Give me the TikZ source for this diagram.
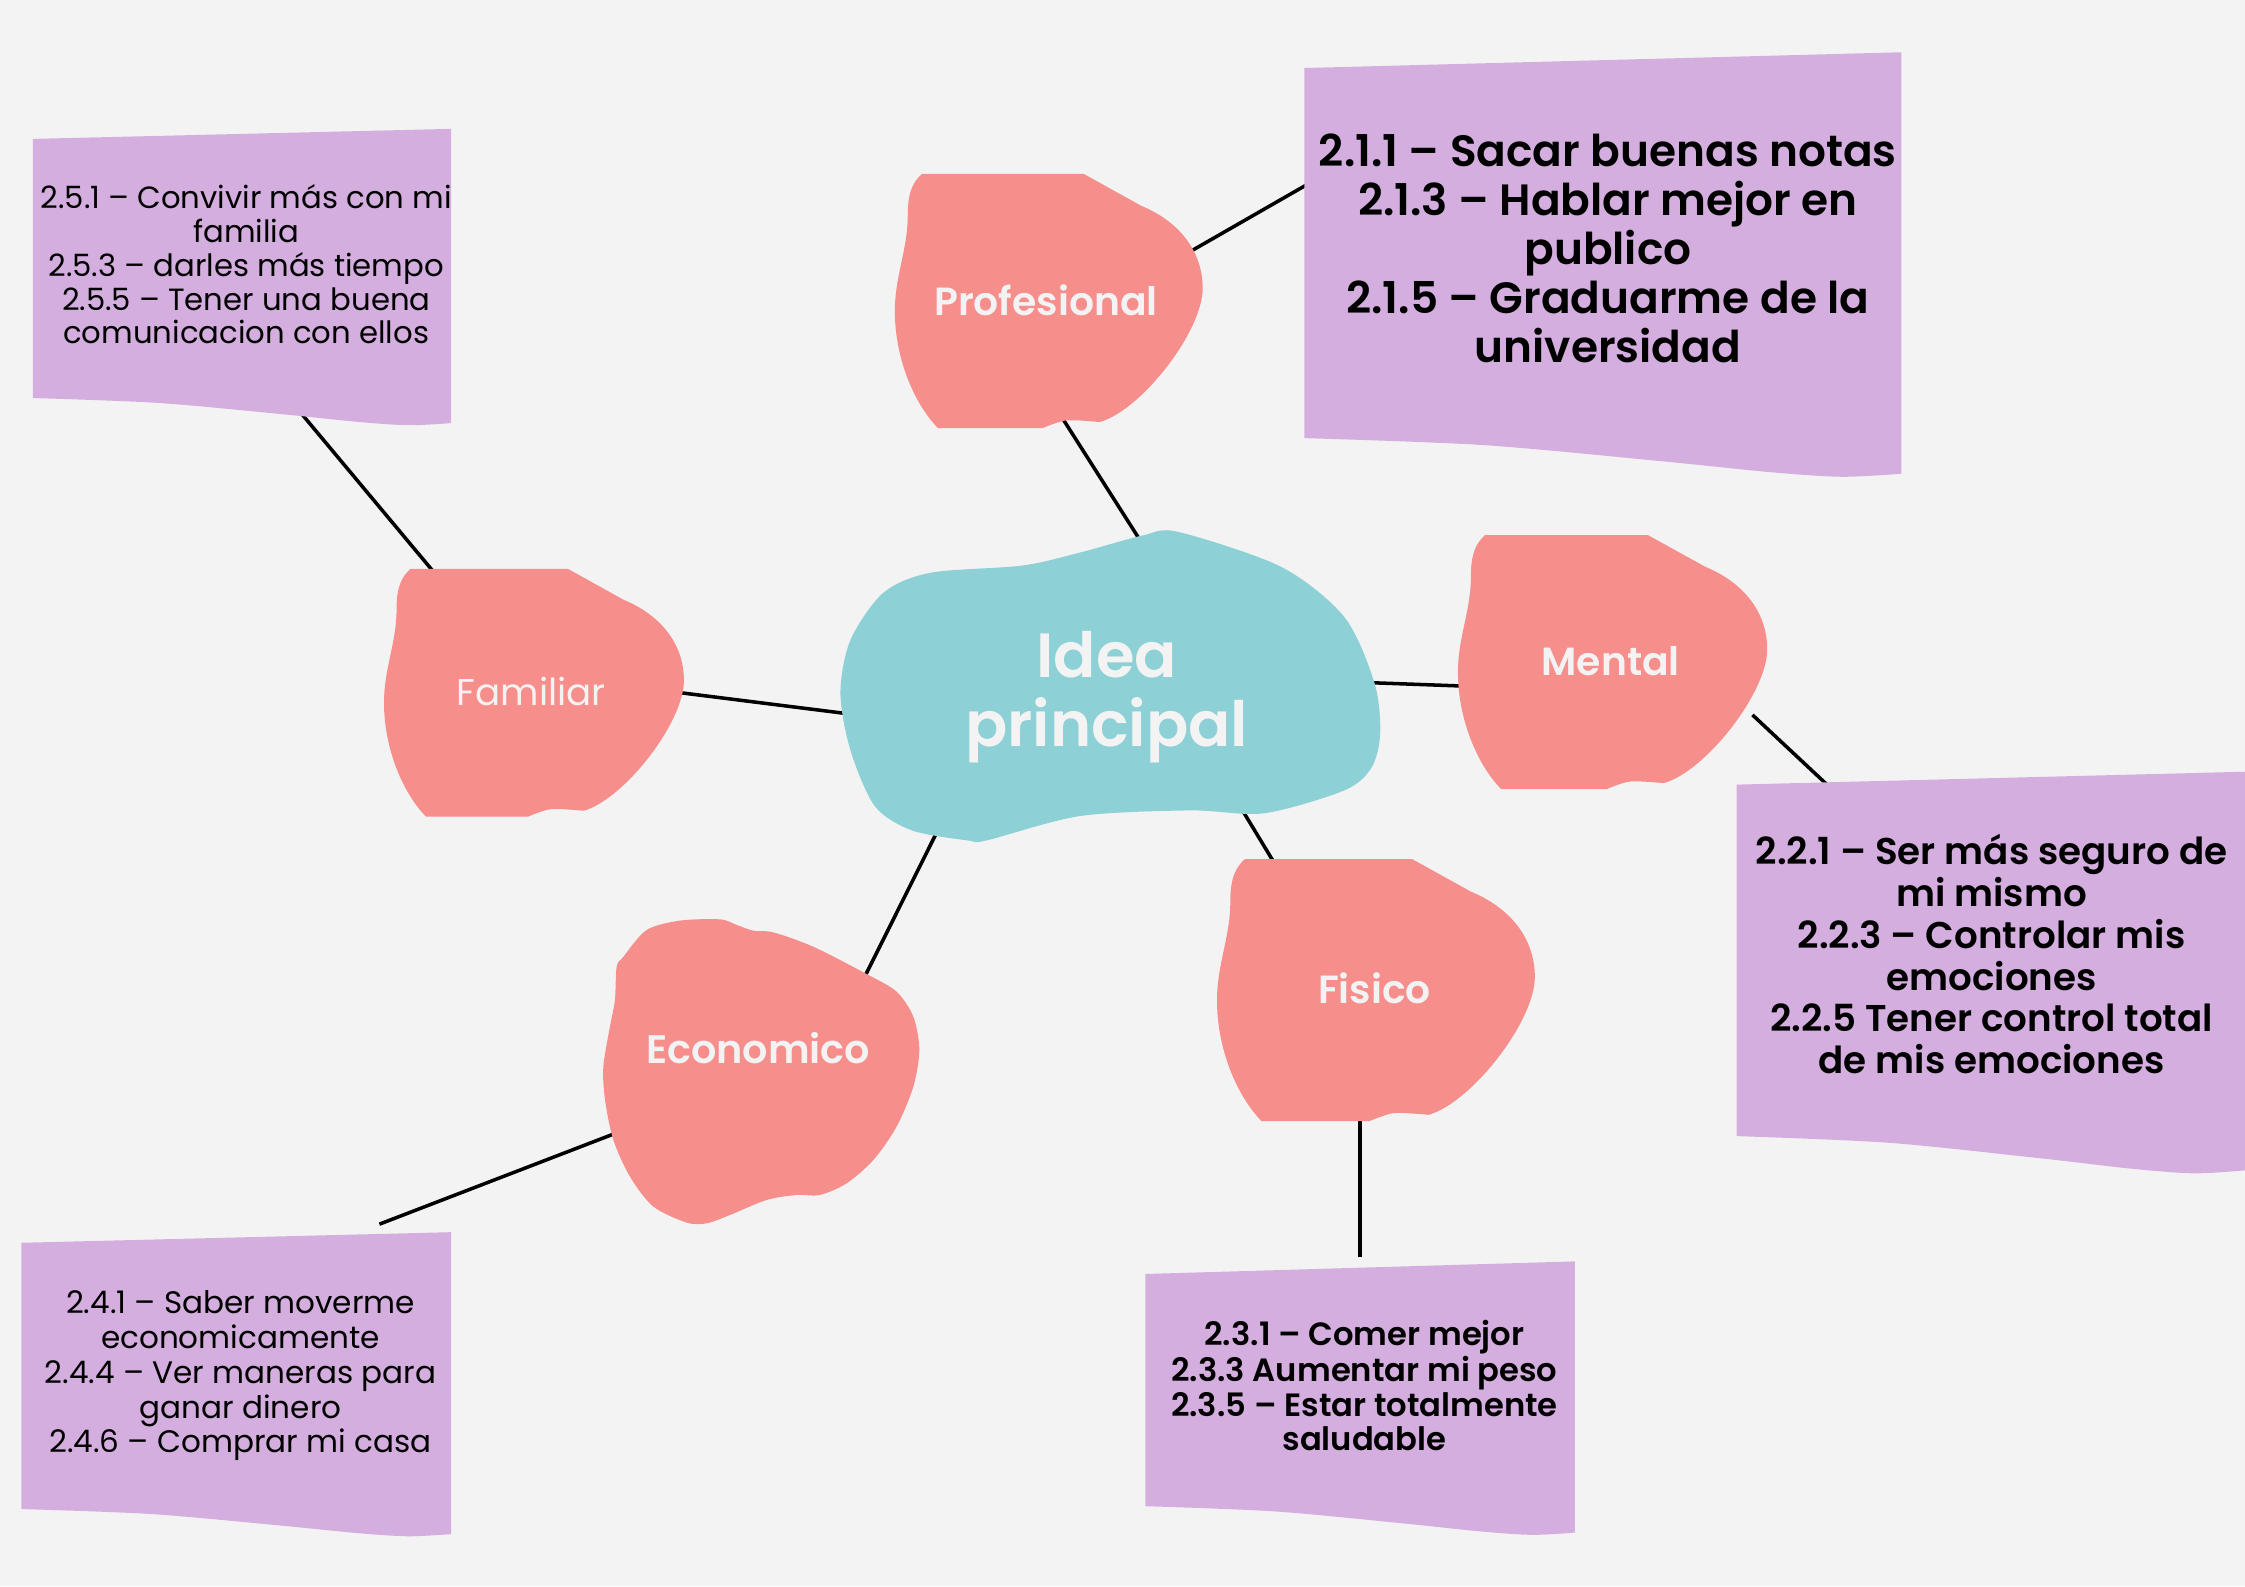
\documentclass[tikz,border=0pt]{standalone}
\usepackage{fontspec}
\setmainfont{Poppins}[BoldFont={Poppins SemiBold}]
\definecolor{canvas}{HTML}{F3F3F3}
\definecolor{petalpink}{HTML}{F68E8C}
\definecolor{coreteal}{HTML}{8DD0D5}
\definecolor{notepurple}{HTML}{D4AEDE}
\definecolor{labelwhite}{HTML}{F3F3F3}

% pink petal: #1,#2 = top-left of its box, #3 = width, #4 = height
\newcommand\drawpetal[4]{%
  \begin{scope}[shift={(#1,#2)}, xscale=#3, yscale=#4]
    \fill[petalpink] (0.088,0) -- (0.614,0) -- (0.80,0.125)
      .. controls (0.92,0.185) and (1,0.30) .. (1,0.45)
      .. controls (1,0.62) and (0.80,0.93) .. (0.666,0.976)
      .. controls (0.62,0.972) and (0.57,0.965) .. (0.545,0.972)
      .. controls (0.52,0.98) and (0.50,0.99) .. (0.48,1)
      -- (0.14,1)
      .. controls (0.06,0.9) and (0,0.72) .. (0,0.54)
      .. controls (0,0.40) and (0.042,0.30) .. (0.042,0.16)
      .. controls (0.042,0.07) and (0.06,0.03) .. (0.088,0) -- cycle;
  \end{scope}}

% purple note card: #1 left, #2 right, #3 top-left y, #4 top-right y,
% #5 bottom-left y, #6 depth of the wavy bottom edge
\newcommand\drawcard[6]{%
  \fill[notepurple] (#1,#3) -- (#2,#4)
    -- plot[smooth] coordinates {
      (#2,{#5+0.92*#6})
      ({#1+0.9*(#2-#1)},{#5+#6})
      ({#1+0.78*(#2-#1)},{#5+0.88*#6})
      ({#1+0.6*(#2-#1)},{#5+0.6*#6})
      ({#1+0.3*(#2-#1)},{#5+0.18*#6})
      (#1,#5)}
    -- cycle;}

\begin{document}
\begin{tikzpicture}[x=0.01cm, y=-0.01cm,
  link/.style={line width=0.7pt, black},
  petallabel/.style={inner sep=0pt, anchor=base, text=labelwhite},
  cardtext/.style={inner sep=0pt, anchor=base, text=black},
]
\useasboundingbox (0,0) rectangle (1568,1108);
\fill[canvas] (0,0) rectangle (1568,1108);

% connector end points
\coordinate (famcard-s) at (211,289.4);
\coordinate (fam-nw) at (305,402);
\coordinate (fam-e) at (472,483.4);
\coordinate (core-w) at (593,498.6);
\coordinate (prof-s) at (742,292);
\coordinate (core-n) at (798,380);
\coordinate (prof-e) at (832,175.3);
\coordinate (profcard-w) at (915,127.7);
\coordinate (core-e) at (957,476.8);
\coordinate (ment-w) at (1023,479.2);
\coordinate (ment-se) at (1224,499.3);
\coordinate (mentcard-nw) at (1280,551.7);
\coordinate (core-se) at (866.6,564);
\coordinate (fis-n) at (891.4,605);
\coordinate (fis-s) at (950,779);
\coordinate (fiscard-top) at (950,878);
\coordinate (core-sw) at (655.2,579.5);
\coordinate (eco-ne) at (601.8,686.5);
\coordinate (eco-w) at (430.5,791.3);
\coordinate (ecocard-top) at (265,855);

% connectors (under the shapes)
\draw[link] (famcard-s) -- (fam-nw);
\draw[link] (fam-e) -- (core-w);
\draw[link] (prof-s) -- (core-n);
\draw[link] (prof-e) -- (profcard-w);
\draw[link] (core-e) -- (ment-w);
\draw[link] (ment-se) -- (mentcard-nw);
\draw[link] (core-se) -- (fis-n);
\draw[link] (fis-s) -- (fiscard-top);
\draw[link] (core-sw) -- (eco-ne);
\draw[link] (eco-w) -- (ecocard-top);

% note cards
\drawcard{23}{315}{97}{90}{278}{19}
\drawcard{911}{1328}{47.5}{36.5}{306}{27}
\drawcard{1213}{1568}{548}{539}{793.5}{26}
\drawcard{15}{315}{868}{860.6}{1054}{19}
\drawcard{800}{1100}{889.8}{881}{1052}{20}

% pink petals
\drawpetal{625}{121.5}{215}{177.5}
\drawpetal{268.2}{397.4}{209.5}{173}
\drawpetal{1018.3}{373.7}{216}{177.5}
\drawpetal{850}{600}{222}{183}

% economic blob
\fill[petalpink] plot[smooth cycle] coordinates {
  (435.4,668.2) (451.7,649.5) (474.9,643.0) (502.9,642.1) (514.5,646.0)
  (526.1,650.0) (540.1,651.2) (568.0,661.2) (605.3,680.3) (626.2,692.6)
  (637.9,710.1) (642.1,733.3) (637.9,759.0) (626.2,786.9) (610.0,810.2)
  (591.3,826.5) (572.7,834.6) (556.4,834.6) (535.5,838.1) (509.8,848.6)
  (493.6,854.4) (479.6,853.9) (456.3,842.7) (440.0,821.8) (428.4,796.2)
  (422.6,768.3) (421.4,745.0) (426.0,717.1) (429.5,698.4) (430.7,675.2)};

% central blob
\fill[coreteal] plot[smooth cycle] coordinates {
  (823,371.5) (895,396) (939,431) (960,477) (964,512) (958,536) (939,552)
  (883,568) (831,566) (754,570) (689,587) (676,587) (637,580) (611,563)
  (594,524) (587,484) (594,447) (617,414) (650,400) (714,395) (754,386)
  (798,374)};

% labels
\node[petallabel, font=\fontsize{12.4}{13.4}\selectfont\bfseries] (core) at (773,473)
  {\begin{tabular}[t]{@{}c@{}}Idea\\ principal\end{tabular}};
\node[petallabel, font=\fontsize{7.8}{9}\selectfont\bfseries] (prof) at (730.5,220) {Profesional};
\node[petallabel, font=\fontsize{7.4}{9}\selectfont] (fam) at (371,493) {Familiar};
\node[petallabel, font=\fontsize{7.8}{9}\selectfont\bfseries] (ment) at (1125,472) {Mental};
\node[petallabel, font=\fontsize{7.8}{9}\selectfont\bfseries] (fis) at (960,701) {Fisico};
\node[petallabel, font=\fontsize{7.9}{9}\selectfont\bfseries] (eco) at (529.5,742.5) {Economico};

% card texts
\node[cardtext, font=\fontsize{6.1}{6.71}\selectfont] (famcard) at (172,145.5)
  {\begin{tabular}[t]{@{}c@{}}2.5.1 – Convivir más con mi\\ familia\\ 2.5.3 – darles más tiempo\\ 2.5.5 – Tener una buena\\ comunicacion con ellos\end{tabular}};
\node[cardtext, font=\fontsize{8.7}{9.7}\selectfont\bfseries] (profcard) at (1123,116.4)
  {\begin{tabular}[t]{@{}c@{}}2.1.1 – Sacar buenas notas\\ 2.1.3 – Hablar mejor en\\ publico\\ 2.1.5 – Graduarme de la\\ universidad\end{tabular}};
\node[cardtext, font=\fontsize{7.4}{8.28}\selectfont\bfseries] (mentcard) at (1391,604.1)
  {\begin{tabular}[t]{@{}c@{}}2.2.1 – Ser más seguro de\\ mi mismo\\ 2.2.3 – Controlar mis\\ emociones\\ 2.2.5 Tener control total\\ de mis emociones\end{tabular}};
\node[cardtext, font=\fontsize{6.4}{6.9}\selectfont\bfseries] (fiscard) at (953,939.8)
  {\begin{tabular}[t]{@{}c@{}}2.3.1 – Comer mejor\\ 2.3.3 Aumentar mi peso\\ 2.3.5 – Estar totalmente\\ saludable\end{tabular}};
\node[cardtext, font=\fontsize{6.17}{6.9}\selectfont] (ecocard) at (168,917.7)
  {\begin{tabular}[t]{@{}c@{}}2.4.1 – Saber moverme\\ economicamente\\ 2.4.4 – Ver maneras para\\ ganar dinero\\ 2.4.6 – Comprar mi casa\end{tabular}};
\end{tikzpicture}
\end{document}
